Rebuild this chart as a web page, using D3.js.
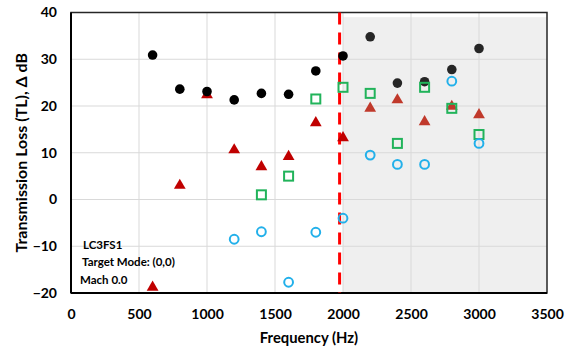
<!DOCTYPE html>
<html><head><meta charset="utf-8">
<script src="https://cdn.jsdelivr.net/npm/d3@7"></script>
<style>body{margin:0;background:#fff}svg{display:block}text{font-family:Lato,"Open Sans",sans-serif;font-weight:bold}</style>
</head><body><svg id="c" width="570" height="349"></svg>
<script>
const freqs = [600,800,1000,1200,1400,1600,1800,2000,2200,2400,2600,2800,3000];
const blackVals = [30.9,23.6,23.1,21.3,22.7,22.5,27.5,30.7,34.8,24.9,25.2,27.8,32.3];
const redVals = [-18.8,3.0,22.4,10.6,7.0,9.2,16.4,13.2,19.5,21.3,16.6,19.9,18.1];
const greenFreqs = [1400,1600,1800,2000,2200,2400,2600,2800,3000];
const greenVals = [1.0,5.0,21.5,24.0,22.7,12.0,24.0,19.5,13.9];
const blueFreqs = [1200,1400,1600,1800,2000,2200,2400,2600,2800,3000];
const blueVals = [-8.5,-6.9,-17.7,-7.0,-4.0,9.5,7.5,7.5,25.3,12.0];
const xTicks = [0,500,1000,1500,2000,2500,3000,3500];
const yTicks = [-20,-10,0,10,20,30,40];
const cutoff = 1975;
const shadeStart = 2000;
const notes = ["LC3FS1","Target Mode: (0,0)","Mach 0.0"];

const svg = d3.select("#c");
const L=71,R=547,T=12.5,B=293;
const x = d3.scaleLinear().domain([0,3500]).range([L,R]);
const y = d3.scaleLinear().domain([-20,40]).range([B,T]);

// shaded region
svg.append("rect").attr("x",x(shadeStart)).attr("y",y(39)).attr("width",x(3500)-x(shadeStart)).attr("height",y(-20)-y(39)).attr("fill","#efefef");

// grid
svg.append("g").selectAll("line").data(xTicks.slice(1,-1)).join("line")
  .attr("x1",d=>x(d)).attr("x2",d=>x(d)).attr("y1",T).attr("y2",B).attr("stroke","#d9d9d9").attr("stroke-width",1);
svg.append("g").selectAll("line").data(yTicks.slice(1,-1)).join("line")
  .attr("x1",L).attr("x2",R).attr("y1",d=>y(d)).attr("y2",d=>y(d)).attr("stroke","#d9d9d9").attr("stroke-width",1);

// border
svg.append("rect").attr("x",L).attr("y",T).attr("width",R-L).attr("height",B-T).attr("fill","none").attr("stroke","#262626").attr("stroke-width",1.5);
svg.append("line").attr("x1",L).attr("x2",R).attr("y1",B).attr("y2",B).attr("stroke","#000").attr("stroke-width",2);
svg.append("line").attr("x1",L).attr("x2",L).attr("y1",T).attr("y2",B).attr("stroke","#000").attr("stroke-width",2);

// axes
const xa = svg.append("g").attr("transform",`translate(0,${B})`).call(d3.axisBottom(x).tickValues(xTicks).tickSize(0).tickPadding(16).tickFormat(d3.format("d")));
xa.select(".domain").remove();
xa.selectAll("text").attr("font-size",14).attr("fill","#000").style("font-family","Lato,sans-serif").style("font-weight","bold");
const ya = svg.append("g").attr("transform",`translate(${L},0)`).call(d3.axisLeft(y).tickValues(yTicks).tickSize(0).tickPadding(14).tickFormat(d3.format("d")));
ya.select(".domain").remove();
ya.selectAll("text").attr("font-size",14).attr("fill","#000").style("font-family","Lato,sans-serif").style("font-weight","bold");

// titles
svg.append("text").attr("x",(L+R)/2).attr("y",343).attr("text-anchor","middle").attr("font-size",14.8).attr("fill","#000").text("Frequency (Hz)");
svg.append("text").attr("transform",`translate(27,${(T+B)/2}) rotate(-90)`).attr("text-anchor","middle").attr("font-size",16).attr("fill","#000").text("Transmission Loss (TL), \u0394 dB");

// annotations
const nx=[83,82,80], ny=[249,266,284];
svg.append("g").selectAll("text").data(notes).join("text")
  .attr("x",(d,i)=>nx[i]).attr("y",(d,i)=>ny[i]).attr("font-size",11.5).attr("fill","#000").text(d=>d);

// dashed cutoff
svg.append("line").attr("x1",x(cutoff)).attr("x2",x(cutoff)).attr("y1",T).attr("y2",B)
  .attr("stroke","#ff0000").attr("stroke-width",3).attr("stroke-dasharray","12,8");

// series
const black = freqs.map((f,i)=>({f,v:blackVals[i]}));
const red = freqs.map((f,i)=>({f,v:redVals[i]}));
const green = greenFreqs.map((f,i)=>({f,v:greenVals[i]}));
const blue = blueFreqs.map((f,i)=>({f,v:blueVals[i]}));

svg.append("g").selectAll("path").data(red).join("path")
  .attr("d",d3.symbol(d3.symbolTriangle,60)())
  .attr("transform",d=>`translate(${x(d.f)},${y(d.v)})`)
  .attr("fill",d=>d.f>shadeStart?"#c0392b":"#c00000");
svg.append("g").selectAll("circle").data(black).join("circle")
  .attr("cx",d=>x(d.f)).attr("cy",d=>y(d.v)).attr("r",4.8)
  .attr("fill",d=>d.f>shadeStart?"#262626":"#000");
svg.append("g").selectAll("rect").data(green).join("rect")
  .attr("x",d=>x(d.f)-4.5).attr("y",d=>y(d.v)-4.5).attr("width",9).attr("height",9)
  .attr("fill","none").attr("stroke","#21b35a").attr("stroke-width",2);
svg.append("g").selectAll("circle").data(blue).join("circle")
  .attr("cx",d=>x(d.f)).attr("cy",d=>y(d.v)).attr("r",4.4)
  .attr("fill","none").attr("stroke","#22b0ea").attr("stroke-width",2);
</script></body></html>
